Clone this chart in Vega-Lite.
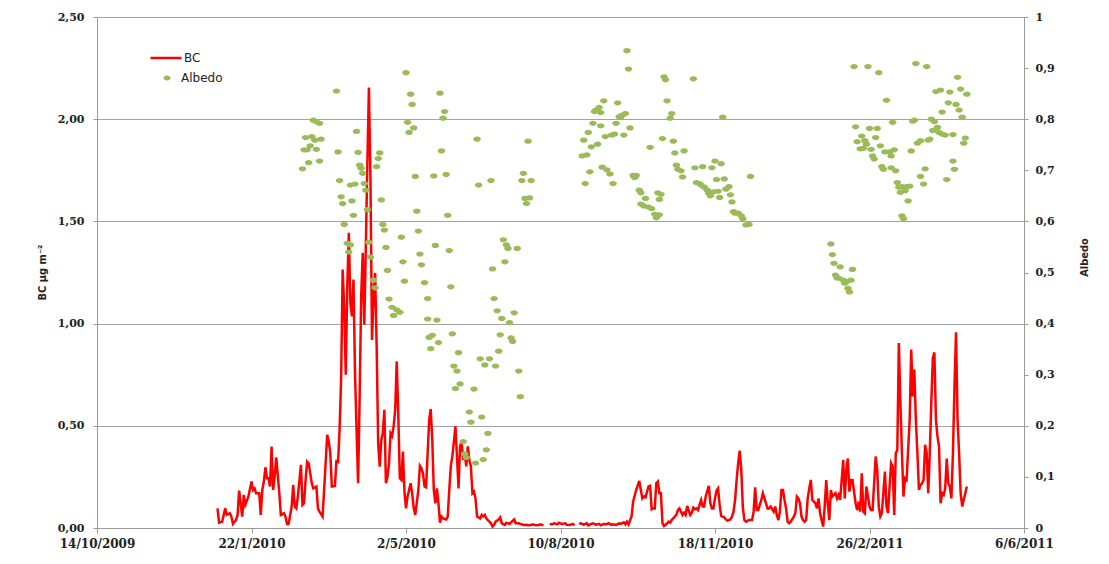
{
  "$schema": "https://vega.github.io/schema/vega-lite/v6.json",
  "width": 927,
  "height": 511,
  "autosize": {"type": "none"},
  "padding": {"left": 97, "top": 17, "right": 85, "bottom": 36},
  "background": "white",
  "config": {
    "view": {"stroke": null},
    "axis": {
      "labelFont": "DejaVu Serif",
      "labelFontWeight": "bold",
      "labelColor": "#222222",
      "domainColor": "#9a9a9a",
      "tickColor": "#9a9a9a",
      "titleFont": "DejaVu Sans Condensed, DejaVu Sans, sans-serif",
      "titleFontWeight": "bold",
      "titleFontSize": 11,
      "titleColor": "#222222"
    },
    "legend": {
      "labelFont": "DejaVu Sans",
      "labelFontSize": 12,
      "labelColor": "#222222",
      "padding": 0,
      "offset": 0
    }
  },
  "datasets": {
    "bc": [
      {"date": "2009/12/31", "BC": 0.096}, {"date": "2010/01/01", "BC": 0.026}, {"date": "2010/01/03", "BC": 0.031},
      {"date": "2010/01/05", "BC": 0.096}, {"date": "2010/01/06", "BC": 0.065}, {"date": "2010/01/08", "BC": 0.072},
      {"date": "2010/01/09", "BC": 0.056}, {"date": "2010/01/10", "BC": 0.020}, {"date": "2010/01/12", "BC": 0.039},
      {"date": "2010/01/13", "BC": 0.064}, {"date": "2010/01/14", "BC": 0.183}, {"date": "2010/01/16", "BC": 0.056},
      {"date": "2010/01/17", "BC": 0.162}, {"date": "2010/01/18", "BC": 0.113}, {"date": "2010/01/20", "BC": 0.154},
      {"date": "2010/01/22", "BC": 0.227}, {"date": "2010/01/23", "BC": 0.186}, {"date": "2010/01/24", "BC": 0.194},
      {"date": "2010/01/25", "BC": 0.170}, {"date": "2010/01/27", "BC": 0.170}, {"date": "2010/01/28", "BC": 0.064},
      {"date": "2010/01/29", "BC": 0.186}, {"date": "2010/01/30", "BC": 0.227}, {"date": "2010/01/31", "BC": 0.297},
      {"date": "2010/02/01", "BC": 0.243}, {"date": "2010/02/02", "BC": 0.243}, {"date": "2010/02/03", "BC": 0.203},
      {"date": "2010/02/04", "BC": 0.399}, {"date": "2010/02/05", "BC": 0.186}, {"date": "2010/02/06", "BC": 0.252},
      {"date": "2010/02/07", "BC": 0.345}, {"date": "2010/02/08", "BC": 0.260}, {"date": "2010/02/09", "BC": 0.170},
      {"date": "2010/02/10", "BC": 0.064}, {"date": "2010/02/12", "BC": 0.072}, {"date": "2010/02/13", "BC": 0.056},
      {"date": "2010/02/14", "BC": 0.020}, {"date": "2010/02/15", "BC": 0.020}, {"date": "2010/02/17", "BC": 0.105},
      {"date": "2010/02/18", "BC": 0.211}, {"date": "2010/02/19", "BC": 0.105}, {"date": "2010/02/20", "BC": 0.096},
      {"date": "2010/02/21", "BC": 0.154}, {"date": "2010/02/23", "BC": 0.309}, {"date": "2010/02/24", "BC": 0.113},
      {"date": "2010/02/25", "BC": 0.121}, {"date": "2010/02/26", "BC": 0.235}, {"date": "2010/02/27", "BC": 0.325},
      {"date": "2010/02/28", "BC": 0.317}, {"date": "2010/03/02", "BC": 0.219}, {"date": "2010/03/03", "BC": 0.194},
      {"date": "2010/03/05", "BC": 0.203}, {"date": "2010/03/06", "BC": 0.096}, {"date": "2010/03/07", "BC": 0.080},
      {"date": "2010/03/09", "BC": 0.056}, {"date": "2010/03/10", "BC": 0.186}, {"date": "2010/03/12", "BC": 0.456},
      {"date": "2010/03/13", "BC": 0.423}, {"date": "2010/03/14", "BC": 0.366}, {"date": "2010/03/15", "BC": 0.203},
      {"date": "2010/03/17", "BC": 0.206}, {"date": "2010/03/18", "BC": 0.333}, {"date": "2010/03/19", "BC": 0.317},
      {"date": "2010/03/20", "BC": 0.480}, {"date": "2010/03/21", "BC": 0.725}, {"date": "2010/03/22", "BC": 1.265},
      {"date": "2010/03/23", "BC": 1.085}, {"date": "2010/03/24", "BC": 0.750}, {"date": "2010/03/25", "BC": 1.183},
      {"date": "2010/03/26", "BC": 1.444}, {"date": "2010/03/27", "BC": 1.100}, {"date": "2010/03/28", "BC": 1.036},
      {"date": "2010/03/29", "BC": 1.216}, {"date": "2010/03/30", "BC": 0.758}, {"date": "2010/03/31", "BC": 0.480},
      {"date": "2010/04/01", "BC": 0.219}, {"date": "2010/04/02", "BC": 0.644}, {"date": "2010/04/03", "BC": 1.134},
      {"date": "2010/04/04", "BC": 1.346}, {"date": "2010/04/05", "BC": 0.995}, {"date": "2010/04/06", "BC": 1.379},
      {"date": "2010/04/07", "BC": 1.788}, {"date": "2010/04/08", "BC": 2.155}, {"date": "2010/04/09", "BC": 1.706},
      {"date": "2010/04/10", "BC": 0.920}, {"date": "2010/04/11", "BC": 1.134}, {"date": "2010/04/12", "BC": 1.248},
      {"date": "2010/04/13", "BC": 0.889}, {"date": "2010/04/14", "BC": 0.415}, {"date": "2010/04/15", "BC": 0.300},
      {"date": "2010/04/16", "BC": 0.431}, {"date": "2010/04/17", "BC": 0.464}, {"date": "2010/04/18", "BC": 0.578},
      {"date": "2010/04/19", "BC": 0.219}, {"date": "2010/04/20", "BC": 0.250}, {"date": "2010/04/21", "BC": 0.317},
      {"date": "2010/04/22", "BC": 0.464}, {"date": "2010/04/23", "BC": 0.450}, {"date": "2010/04/24", "BC": 0.497},
      {"date": "2010/04/25", "BC": 0.578}, {"date": "2010/04/26", "BC": 0.815}, {"date": "2010/04/27", "BC": 0.560},
      {"date": "2010/04/28", "BC": 0.243}, {"date": "2010/04/29", "BC": 0.235}, {"date": "2010/04/30", "BC": 0.374},
      {"date": "2010/05/01", "BC": 0.178}, {"date": "2010/05/02", "BC": 0.096}, {"date": "2010/05/03", "BC": 0.154},
      {"date": "2010/05/05", "BC": 0.219}, {"date": "2010/05/06", "BC": 0.170}, {"date": "2010/05/07", "BC": 0.096},
      {"date": "2010/05/08", "BC": 0.064}, {"date": "2010/05/10", "BC": 0.186}, {"date": "2010/05/11", "BC": 0.304},
      {"date": "2010/05/12", "BC": 0.292}, {"date": "2010/05/13", "BC": 0.268}, {"date": "2010/05/14", "BC": 0.203},
      {"date": "2010/05/15", "BC": 0.199}, {"date": "2010/05/17", "BC": 0.529}, {"date": "2010/05/18", "BC": 0.582},
      {"date": "2010/05/19", "BC": 0.431}, {"date": "2010/05/20", "BC": 0.186}, {"date": "2010/05/21", "BC": 0.121},
      {"date": "2010/05/22", "BC": 0.194}, {"date": "2010/05/23", "BC": 0.121}, {"date": "2010/05/24", "BC": 0.026},
      {"date": "2010/05/25", "BC": 0.056}, {"date": "2010/05/26", "BC": 0.047}, {"date": "2010/05/28", "BC": 0.042},
      {"date": "2010/05/29", "BC": 0.056}, {"date": "2010/05/30", "BC": 0.186}, {"date": "2010/05/31", "BC": 0.304},
      {"date": "2010/06/01", "BC": 0.350}, {"date": "2010/06/02", "BC": 0.423}, {"date": "2010/06/03", "BC": 0.497},
      {"date": "2010/06/04", "BC": 0.350}, {"date": "2010/06/05", "BC": 0.194}, {"date": "2010/06/06", "BC": 0.399},
      {"date": "2010/06/07", "BC": 0.423}, {"date": "2010/06/08", "BC": 0.333}, {"date": "2010/06/09", "BC": 0.366},
      {"date": "2010/06/10", "BC": 0.301}, {"date": "2010/06/11", "BC": 0.399}, {"date": "2010/06/12", "BC": 0.333},
      {"date": "2010/06/13", "BC": 0.301}, {"date": "2010/06/14", "BC": 0.170}, {"date": "2010/06/15", "BC": 0.178},
      {"date": "2010/06/16", "BC": 0.145}, {"date": "2010/06/17", "BC": 0.056}, {"date": "2010/06/19", "BC": 0.047},
      {"date": "2010/06/20", "BC": 0.064}, {"date": "2010/06/21", "BC": 0.056}, {"date": "2010/06/22", "BC": 0.064},
      {"date": "2010/06/23", "BC": 0.047}, {"date": "2010/06/24", "BC": 0.039}, {"date": "2010/06/25", "BC": 0.031},
      {"date": "2010/06/26", "BC": 0.023}, {"date": "2010/06/27", "BC": 0.007}, {"date": "2010/06/28", "BC": 0.015},
      {"date": "2010/06/29", "BC": 0.031}, {"date": "2010/07/01", "BC": 0.042}, {"date": "2010/07/02", "BC": 0.052},
      {"date": "2010/07/03", "BC": 0.023}, {"date": "2010/07/05", "BC": 0.015}, {"date": "2010/07/06", "BC": 0.026},
      {"date": "2010/07/08", "BC": 0.020}, {"date": "2010/07/09", "BC": 0.028}, {"date": "2010/07/11", "BC": 0.042},
      {"date": "2010/07/12", "BC": 0.023}, {"date": "2010/07/14", "BC": 0.023}, {"date": "2010/07/15", "BC": 0.020},
      {"date": "2010/07/17", "BC": 0.015}, {"date": "2010/07/19", "BC": 0.016}, {"date": "2010/07/20", "BC": 0.013},
      {"date": "2010/07/22", "BC": 0.015}, {"date": "2010/07/23", "BC": 0.018}, {"date": "2010/07/25", "BC": 0.013},
      {"date": "2010/07/27", "BC": 0.015}, {"date": "2010/07/28", "BC": 0.018}, {"date": "2010/07/30", "BC": 0.013},
      {"date": "2010/07/31", "BC": null}, {"date": "2010/08/01", "BC": null},
      {"date": "2010/08/03", "BC": 0.018}, {"date": "2010/08/05", "BC": 0.020}, {"date": "2010/08/06", "BC": 0.023},
      {"date": "2010/08/08", "BC": 0.018}, {"date": "2010/08/09", "BC": 0.026}, {"date": "2010/08/11", "BC": 0.020},
      {"date": "2010/08/13", "BC": 0.023}, {"date": "2010/08/14", "BC": 0.016}, {"date": "2010/08/16", "BC": 0.015},
      {"date": "2010/08/18", "BC": 0.020}, {"date": "2010/08/19", "BC": 0.013}, {"date": "2010/08/20", "BC": null},
      {"date": "2010/08/22", "BC": 0.020}, {"date": "2010/08/23", "BC": 0.023}, {"date": "2010/08/25", "BC": 0.016},
      {"date": "2010/08/27", "BC": 0.023}, {"date": "2010/08/28", "BC": 0.013}, {"date": "2010/08/30", "BC": 0.020},
      {"date": "2010/08/31", "BC": 0.023}, {"date": "2010/09/02", "BC": 0.016}, {"date": "2010/09/04", "BC": 0.020},
      {"date": "2010/09/05", "BC": 0.013}, {"date": "2010/09/07", "BC": 0.020}, {"date": "2010/09/09", "BC": 0.018},
      {"date": "2010/09/10", "BC": 0.023}, {"date": "2010/09/12", "BC": 0.015}, {"date": "2010/09/13", "BC": 0.018},
      {"date": "2010/09/15", "BC": 0.015}, {"date": "2010/09/17", "BC": 0.023}, {"date": "2010/09/18", "BC": 0.020},
      {"date": "2010/09/20", "BC": 0.028}, {"date": "2010/09/21", "BC": 0.018}, {"date": "2010/09/22", "BC": 0.031},
      {"date": "2010/09/23", "BC": 0.018}, {"date": "2010/09/25", "BC": 0.056}, {"date": "2010/09/26", "BC": 0.129},
      {"date": "2010/09/28", "BC": 0.186}, {"date": "2010/09/30", "BC": 0.230}, {"date": "2010/10/01", "BC": 0.186},
      {"date": "2010/10/02", "BC": 0.145}, {"date": "2010/10/03", "BC": 0.154}, {"date": "2010/10/04", "BC": 0.150},
      {"date": "2010/10/06", "BC": 0.203}, {"date": "2010/10/07", "BC": 0.206}, {"date": "2010/10/08", "BC": 0.092},
      {"date": "2010/10/09", "BC": 0.096}, {"date": "2010/10/10", "BC": 0.096}, {"date": "2010/10/11", "BC": 0.219},
      {"date": "2010/10/12", "BC": 0.227}, {"date": "2010/10/13", "BC": 0.170}, {"date": "2010/10/14", "BC": 0.170},
      {"date": "2010/10/15", "BC": 0.023}, {"date": "2010/10/16", "BC": 0.010}, {"date": "2010/10/17", "BC": 0.015},
      {"date": "2010/10/18", "BC": 0.023}, {"date": "2010/10/19", "BC": 0.031}, {"date": "2010/10/20", "BC": 0.026},
      {"date": "2010/10/21", "BC": 0.039}, {"date": "2010/10/23", "BC": 0.056}, {"date": "2010/10/24", "BC": 0.064},
      {"date": "2010/10/25", "BC": 0.088}, {"date": "2010/10/26", "BC": 0.096}, {"date": "2010/10/27", "BC": 0.080},
      {"date": "2010/10/28", "BC": 0.064}, {"date": "2010/10/29", "BC": 0.075}, {"date": "2010/10/30", "BC": 0.064},
      {"date": "2010/10/31", "BC": 0.108}, {"date": "2010/11/02", "BC": 0.064}, {"date": "2010/11/03", "BC": 0.075},
      {"date": "2010/11/04", "BC": 0.100}, {"date": "2010/11/05", "BC": 0.092}, {"date": "2010/11/06", "BC": 0.096},
      {"date": "2010/11/07", "BC": 0.088}, {"date": "2010/11/08", "BC": 0.113}, {"date": "2010/11/09", "BC": 0.137},
      {"date": "2010/11/10", "BC": 0.105}, {"date": "2010/11/11", "BC": 0.105}, {"date": "2010/11/12", "BC": 0.154},
      {"date": "2010/11/14", "BC": 0.206}, {"date": "2010/11/15", "BC": 0.121}, {"date": "2010/11/16", "BC": 0.096},
      {"date": "2010/11/17", "BC": 0.096}, {"date": "2010/11/18", "BC": 0.145}, {"date": "2010/11/19", "BC": 0.183},
      {"date": "2010/11/20", "BC": 0.194}, {"date": "2010/11/21", "BC": 0.113}, {"date": "2010/11/22", "BC": 0.059},
      {"date": "2010/11/24", "BC": 0.052}, {"date": "2010/11/25", "BC": 0.042}, {"date": "2010/11/26", "BC": 0.036},
      {"date": "2010/11/28", "BC": 0.042}, {"date": "2010/11/29", "BC": 0.056}, {"date": "2010/11/30", "BC": 0.080},
      {"date": "2010/12/01", "BC": 0.137}, {"date": "2010/12/02", "BC": 0.235}, {"date": "2010/12/03", "BC": 0.317},
      {"date": "2010/12/04", "BC": 0.379}, {"date": "2010/12/05", "BC": 0.284}, {"date": "2010/12/06", "BC": 0.105},
      {"date": "2010/12/07", "BC": 0.039}, {"date": "2010/12/08", "BC": 0.031}, {"date": "2010/12/10", "BC": 0.039},
      {"date": "2010/12/12", "BC": 0.039}, {"date": "2010/12/13", "BC": 0.080}, {"date": "2010/12/14", "BC": 0.199},
      {"date": "2010/12/15", "BC": 0.088}, {"date": "2010/12/16", "BC": 0.088}, {"date": "2010/12/17", "BC": 0.113},
      {"date": "2010/12/18", "BC": 0.137}, {"date": "2010/12/19", "BC": 0.170}, {"date": "2010/12/20", "BC": 0.145},
      {"date": "2010/12/21", "BC": 0.121}, {"date": "2010/12/22", "BC": 0.096}, {"date": "2010/12/23", "BC": 0.096},
      {"date": "2010/12/24", "BC": 0.105}, {"date": "2010/12/26", "BC": 0.080}, {"date": "2010/12/27", "BC": 0.105},
      {"date": "2010/12/28", "BC": 0.064}, {"date": "2010/12/29", "BC": 0.039}, {"date": "2010/12/30", "BC": 0.080},
      {"date": "2010/12/31", "BC": 0.186}, {"date": "2011/01/01", "BC": 0.186}, {"date": "2011/01/02", "BC": 0.137},
      {"date": "2011/01/03", "BC": 0.096}, {"date": "2011/01/04", "BC": 0.031}, {"date": "2011/01/05", "BC": 0.023},
      {"date": "2011/01/06", "BC": 0.031}, {"date": "2011/01/08", "BC": 0.056}, {"date": "2011/01/09", "BC": 0.072},
      {"date": "2011/01/10", "BC": 0.154}, {"date": "2011/01/11", "BC": 0.145}, {"date": "2011/01/12", "BC": 0.121},
      {"date": "2011/01/13", "BC": 0.056}, {"date": "2011/01/14", "BC": 0.039}, {"date": "2011/01/15", "BC": 0.031},
      {"date": "2011/01/16", "BC": 0.039}, {"date": "2011/01/17", "BC": 0.145}, {"date": "2011/01/18", "BC": 0.194},
      {"date": "2011/01/19", "BC": 0.235}, {"date": "2011/01/20", "BC": 0.137}, {"date": "2011/01/22", "BC": 0.121},
      {"date": "2011/01/23", "BC": 0.096}, {"date": "2011/01/24", "BC": 0.145}, {"date": "2011/01/25", "BC": 0.072},
      {"date": "2011/01/26", "BC": 0.039}, {"date": "2011/01/27", "BC": 0.007}, {"date": "2011/01/28", "BC": 0.105},
      {"date": "2011/01/29", "BC": 0.235}, {"date": "2011/01/30", "BC": 0.121}, {"date": "2011/01/31", "BC": 0.039},
      {"date": "2011/02/01", "BC": 0.186}, {"date": "2011/02/02", "BC": 0.154}, {"date": "2011/02/04", "BC": 0.170},
      {"date": "2011/02/05", "BC": 0.145}, {"date": "2011/02/06", "BC": 0.162}, {"date": "2011/02/07", "BC": 0.137},
      {"date": "2011/02/09", "BC": 0.333}, {"date": "2011/02/10", "BC": 0.145}, {"date": "2011/02/11", "BC": 0.284},
      {"date": "2011/02/12", "BC": 0.340}, {"date": "2011/02/13", "BC": 0.178}, {"date": "2011/02/14", "BC": 0.235},
      {"date": "2011/02/15", "BC": 0.235}, {"date": "2011/02/17", "BC": 0.121}, {"date": "2011/02/18", "BC": 0.088},
      {"date": "2011/02/19", "BC": 0.129}, {"date": "2011/02/20", "BC": 0.080}, {"date": "2011/02/21", "BC": 0.268},
      {"date": "2011/02/22", "BC": 0.080}, {"date": "2011/02/23", "BC": 0.072}, {"date": "2011/02/24", "BC": 0.203},
      {"date": "2011/02/25", "BC": 0.154}, {"date": "2011/02/26", "BC": 0.105}, {"date": "2011/02/27", "BC": 0.088},
      {"date": "2011/02/28", "BC": 0.088}, {"date": "2011/03/02", "BC": 0.350}, {"date": "2011/03/03", "BC": 0.284},
      {"date": "2011/03/04", "BC": 0.105}, {"date": "2011/03/05", "BC": 0.056}, {"date": "2011/03/06", "BC": 0.072},
      {"date": "2011/03/08", "BC": 0.276}, {"date": "2011/03/09", "BC": 0.105}, {"date": "2011/03/10", "BC": 0.072},
      {"date": "2011/03/11", "BC": 0.203}, {"date": "2011/03/12", "BC": 0.317}, {"date": "2011/03/13", "BC": 0.301},
      {"date": "2011/03/14", "BC": 0.064}, {"date": "2011/03/15", "BC": 0.366}, {"date": "2011/03/16", "BC": 0.382},
      {"date": "2011/03/17", "BC": 0.905}, {"date": "2011/03/18", "BC": 0.611}, {"date": "2011/03/19", "BC": 0.366},
      {"date": "2011/03/20", "BC": 0.154}, {"date": "2011/03/21", "BC": 0.243}, {"date": "2011/03/22", "BC": 0.235},
      {"date": "2011/03/24", "BC": 0.529}, {"date": "2011/03/25", "BC": 0.873}, {"date": "2011/03/26", "BC": 0.644},
      {"date": "2011/03/27", "BC": 0.775}, {"date": "2011/03/28", "BC": 0.529}, {"date": "2011/03/29", "BC": 0.366},
      {"date": "2011/03/30", "BC": 0.186}, {"date": "2011/03/31", "BC": 0.210}, {"date": "2011/04/01", "BC": 0.219},
      {"date": "2011/04/02", "BC": 0.235}, {"date": "2011/04/03", "BC": 0.407}, {"date": "2011/04/04", "BC": 0.366},
      {"date": "2011/04/05", "BC": 0.170}, {"date": "2011/04/06", "BC": 0.366}, {"date": "2011/04/07", "BC": 0.611},
      {"date": "2011/04/08", "BC": 0.832}, {"date": "2011/04/09", "BC": 0.859}, {"date": "2011/04/10", "BC": 0.529},
      {"date": "2011/04/11", "BC": 0.448}, {"date": "2011/04/12", "BC": 0.399}, {"date": "2011/04/13", "BC": 0.121},
      {"date": "2011/04/14", "BC": 0.170}, {"date": "2011/04/15", "BC": 0.162}, {"date": "2011/04/16", "BC": 0.194},
      {"date": "2011/04/17", "BC": 0.340}, {"date": "2011/04/18", "BC": 0.219}, {"date": "2011/04/19", "BC": 0.203},
      {"date": "2011/04/20", "BC": 0.145}, {"date": "2011/04/21", "BC": 0.366}, {"date": "2011/04/22", "BC": 0.693},
      {"date": "2011/04/23", "BC": 0.958}, {"date": "2011/04/24", "BC": 0.529}, {"date": "2011/04/25", "BC": 0.366},
      {"date": "2011/04/26", "BC": 0.170}, {"date": "2011/04/27", "BC": 0.105}, {"date": "2011/04/28", "BC": 0.137},
      {"date": "2011/04/30", "BC": 0.203}
    ],
    "albedo": [
      {"date": "2010/03/18", "albedo": 0.855}, {"date": "2010/05/02", "albedo": 0.891}, {"date": "2010/05/05", "albedo": 0.849},
      {"date": "2010/05/06", "albedo": 0.829}, {"date": "2010/05/24", "albedo": 0.851}, {"date": "2010/05/27", "albedo": 0.815},
      {"date": "2010/05/26", "albedo": 0.802}, {"date": "2010/05/03", "albedo": 0.794}, {"date": "2010/05/07", "albedo": 0.783},
      {"date": "2010/05/04", "albedo": 0.774}, {"date": "2010/03/03", "albedo": 0.798}, {"date": "2010/03/05", "albedo": 0.795},
      {"date": "2010/03/07", "albedo": 0.792}, {"date": "2010/02/26", "albedo": 0.764}, {"date": "2010/03/02", "albedo": 0.766},
      {"date": "2010/03/04", "albedo": 0.759}, {"date": "2010/03/08", "albedo": 0.761}, {"date": "2010/02/25", "albedo": 0.740},
      {"date": "2010/02/27", "albedo": 0.740}, {"date": "2010/03/01", "albedo": 0.748}, {"date": "2010/03/05", "albedo": 0.741},
      {"date": "2010/02/24", "albedo": 0.703}, {"date": "2010/02/28", "albedo": 0.715}, {"date": "2010/03/07", "albedo": 0.718},
      {"date": "2010/03/31", "albedo": 0.776}, {"date": "2010/03/19", "albedo": 0.736}, {"date": "2010/04/01", "albedo": 0.735},
      {"date": "2010/04/15", "albedo": 0.734}, {"date": "2010/04/14", "albedo": 0.723}, {"date": "2010/04/13", "albedo": 0.707},
      {"date": "2010/04/02", "albedo": 0.710}, {"date": "2010/04/03", "albedo": 0.704}, {"date": "2010/04/04", "albedo": 0.694},
      {"date": "2010/03/20", "albedo": 0.680}, {"date": "2010/03/27", "albedo": 0.671}, {"date": "2010/03/30", "albedo": 0.673},
      {"date": "2010/04/05", "albedo": 0.674}, {"date": "2010/04/06", "albedo": 0.661}, {"date": "2010/05/08", "albedo": 0.688},
      {"date": "2010/05/20", "albedo": 0.689}, {"date": "2010/05/28", "albedo": 0.692}, {"date": "2010/05/25", "albedo": 0.738},
      {"date": "2010/06/17", "albedo": 0.761}, {"date": "2010/06/18", "albedo": 0.671}, {"date": "2010/06/26", "albedo": 0.680},
      {"date": "2010/07/20", "albedo": 0.757}, {"date": "2010/07/17", "albedo": 0.694}, {"date": "2010/07/16", "albedo": 0.680},
      {"date": "2010/07/22", "albedo": 0.680}, {"date": "2010/07/18", "albedo": 0.645}, {"date": "2010/07/21", "albedo": 0.646},
      {"date": "2010/07/19", "albedo": 0.635}, {"date": "2010/03/21", "albedo": 0.648}, {"date": "2010/03/22", "albedo": 0.635},
      {"date": "2010/03/28", "albedo": 0.640}, {"date": "2010/03/29", "albedo": 0.612}, {"date": "2010/04/16", "albedo": 0.642},
      {"date": "2010/05/09", "albedo": 0.620}, {"date": "2010/05/29", "albedo": 0.612}, {"date": "2010/03/23", "albedo": 0.594},
      {"date": "2010/04/17", "albedo": 0.594}, {"date": "2010/04/18", "albedo": 0.583}, {"date": "2010/04/07", "albedo": 0.623},
      {"date": "2010/04/08", "albedo": 0.559}, {"date": "2010/04/09", "albedo": 0.530}, {"date": "2010/03/25", "albedo": 0.557},
      {"date": "2010/03/27", "albedo": 0.554}, {"date": "2010/03/26", "albedo": 0.540}, {"date": "2010/04/29", "albedo": 0.569},
      {"date": "2010/05/10", "albedo": 0.581}, {"date": "2010/04/19", "albedo": 0.549}, {"date": "2010/05/11", "albedo": 0.536},
      {"date": "2010/05/21", "albedo": 0.553}, {"date": "2010/05/30", "albedo": 0.543}, {"date": "2010/07/04", "albedo": 0.564},
      {"date": "2010/07/06", "albedo": 0.554}, {"date": "2010/07/07", "albedo": 0.547}, {"date": "2010/07/13", "albedo": 0.547},
      {"date": "2010/04/20", "albedo": 0.504}, {"date": "2010/05/01", "albedo": 0.483}, {"date": "2010/05/14", "albedo": 0.480},
      {"date": "2010/05/16", "albedo": 0.449}, {"date": "2010/05/31", "albedo": 0.472}, {"date": "2010/04/21", "albedo": 0.448},
      {"date": "2010/04/23", "albedo": 0.432}, {"date": "2010/04/26", "albedo": 0.427}, {"date": "2010/04/28", "albedo": 0.422},
      {"date": "2010/04/24", "albedo": 0.416}, {"date": "2010/05/16", "albedo": 0.409}, {"date": "2010/05/22", "albedo": 0.407},
      {"date": "2010/05/17", "albedo": 0.373}, {"date": "2010/05/19", "albedo": 0.377}, {"date": "2010/05/23", "albedo": 0.363},
      {"date": "2010/05/18", "albedo": 0.351}, {"date": "2010/06/01", "albedo": 0.380}, {"date": "2010/06/05", "albedo": 0.343},
      {"date": "2010/06/02", "albedo": 0.317}, {"date": "2010/06/04", "albedo": 0.307}, {"date": "2010/06/06", "albedo": 0.282},
      {"date": "2010/06/03", "albedo": 0.273}, {"date": "2010/06/15", "albedo": 0.272}, {"date": "2010/06/12", "albedo": 0.227},
      {"date": "2010/06/13", "albedo": 0.207}, {"date": "2010/06/20", "albedo": 0.217}, {"date": "2010/06/24", "albedo": 0.185},
      {"date": "2010/06/08", "albedo": 0.169}, {"date": "2010/06/09", "albedo": 0.145}, {"date": "2010/06/10", "albedo": 0.138},
      {"date": "2010/06/16", "albedo": 0.127}, {"date": "2010/06/21", "albedo": 0.134}, {"date": "2010/06/23", "albedo": 0.153},
      {"date": "2010/06/27", "albedo": 0.507}, {"date": "2010/07/05", "albedo": 0.521}, {"date": "2010/06/28", "albedo": 0.449},
      {"date": "2010/06/30", "albedo": 0.425}, {"date": "2010/07/03", "albedo": 0.410}, {"date": "2010/07/08", "albedo": 0.402},
      {"date": "2010/07/11", "albedo": 0.421}, {"date": "2010/07/02", "albedo": 0.378}, {"date": "2010/07/09", "albedo": 0.372},
      {"date": "2010/07/10", "albedo": 0.365}, {"date": "2010/07/01", "albedo": 0.346}, {"date": "2010/06/19", "albedo": 0.331},
      {"date": "2010/06/22", "albedo": 0.319}, {"date": "2010/06/25", "albedo": 0.331}, {"date": "2010/06/29", "albedo": 0.317},
      {"date": "2010/07/14", "albedo": 0.307}, {"date": "2010/07/15", "albedo": 0.257}, {"date": "2010/04/11", "albedo": 0.485},
      {"date": "2010/04/12", "albedo": 0.470}, {"date": "2010/05/12", "albedo": 0.515}, {"date": "2010/04/30", "albedo": 0.521},
      {"date": "2010/09/22", "albedo": 0.934}, {"date": "2010/09/23", "albedo": 0.898}, {"date": "2010/10/16", "albedo": 0.883},
      {"date": "2010/10/17", "albedo": 0.877}, {"date": "2010/11/04", "albedo": 0.879}, {"date": "2010/10/18", "albedo": 0.836},
      {"date": "2010/09/07", "albedo": 0.836}, {"date": "2010/09/16", "albedo": 0.832}, {"date": "2010/09/02", "albedo": 0.818},
      {"date": "2010/09/04", "albedo": 0.823}, {"date": "2010/09/01", "albedo": 0.815}, {"date": "2010/09/05", "albedo": 0.813},
      {"date": "2010/09/19", "albedo": 0.808}, {"date": "2010/09/21", "albedo": 0.811}, {"date": "2010/09/18", "albedo": 0.804},
      {"date": "2010/09/17", "albedo": 0.805}, {"date": "2010/10/20", "albedo": 0.802}, {"date": "2010/10/21", "albedo": 0.811},
      {"date": "2010/11/23", "albedo": 0.804}, {"date": "2010/08/31", "albedo": 0.792}, {"date": "2010/09/05", "albedo": 0.787},
      {"date": "2010/09/15", "albedo": 0.792}, {"date": "2010/09/24", "albedo": 0.783}, {"date": "2010/08/28", "albedo": 0.774},
      {"date": "2010/08/25", "albedo": 0.759}, {"date": "2010/09/08", "albedo": 0.766}, {"date": "2010/09/12", "albedo": 0.769},
      {"date": "2010/09/14", "albedo": 0.771}, {"date": "2010/09/20", "albedo": 0.769}, {"date": "2010/10/15", "albedo": 0.762},
      {"date": "2010/10/22", "albedo": 0.757}, {"date": "2010/08/30", "albedo": 0.746}, {"date": "2010/09/03", "albedo": 0.751},
      {"date": "2010/10/07", "albedo": 0.745}, {"date": "2010/10/23", "albedo": 0.734}, {"date": "2010/10/29", "albedo": 0.738},
      {"date": "2010/08/24", "albedo": 0.728}, {"date": "2010/08/27", "albedo": 0.730}, {"date": "2010/08/29", "albedo": 0.697},
      {"date": "2010/09/06", "albedo": 0.706}, {"date": "2010/09/09", "albedo": 0.701}, {"date": "2010/09/11", "albedo": 0.693},
      {"date": "2010/09/26", "albedo": 0.690}, {"date": "2010/09/28", "albedo": 0.690}, {"date": "2010/09/27", "albedo": 0.686},
      {"date": "2010/10/28", "albedo": 0.687}, {"date": "2010/10/24", "albedo": 0.710}, {"date": "2010/10/25", "albedo": 0.702},
      {"date": "2010/10/27", "albedo": 0.699}, {"date": "2010/11/05", "albedo": 0.705}, {"date": "2010/11/10", "albedo": 0.707},
      {"date": "2010/11/16", "albedo": 0.705}, {"date": "2010/11/18", "albedo": 0.718}, {"date": "2010/11/22", "albedo": 0.713},
      {"date": "2010/12/11", "albedo": 0.688}, {"date": "2010/08/26", "albedo": 0.674}, {"date": "2010/09/13", "albedo": 0.674},
      {"date": "2010/09/30", "albedo": 0.661}, {"date": "2010/10/01", "albedo": 0.656}, {"date": "2010/10/12", "albedo": 0.656},
      {"date": "2010/10/14", "albedo": 0.653}, {"date": "2010/10/04", "albedo": 0.645}, {"date": "2010/10/13", "albedo": 0.643},
      {"date": "2010/10/01", "albedo": 0.634}, {"date": "2010/10/03", "albedo": 0.630}, {"date": "2010/10/06", "albedo": 0.628},
      {"date": "2010/10/08", "albedo": 0.625}, {"date": "2010/10/10", "albedo": 0.614}, {"date": "2010/10/13", "albedo": 0.613},
      {"date": "2010/10/11", "albedo": 0.607}, {"date": "2010/11/06", "albedo": 0.676}, {"date": "2010/11/08", "albedo": 0.674},
      {"date": "2010/11/09", "albedo": 0.671}, {"date": "2010/11/11", "albedo": 0.667}, {"date": "2010/11/13", "albedo": 0.661},
      {"date": "2010/11/14", "albedo": 0.655}, {"date": "2010/11/15", "albedo": 0.650}, {"date": "2010/11/17", "albedo": 0.658},
      {"date": "2010/11/19", "albedo": 0.682}, {"date": "2010/11/20", "albedo": 0.659}, {"date": "2010/11/24", "albedo": 0.683},
      {"date": "2010/11/25", "albedo": 0.663}, {"date": "2010/11/27", "albedo": 0.668}, {"date": "2010/11/28", "albedo": 0.652},
      {"date": "2010/11/21", "albedo": 0.647}, {"date": "2010/11/29", "albedo": 0.638}, {"date": "2010/11/30", "albedo": 0.619},
      {"date": "2010/12/01", "albedo": 0.616}, {"date": "2010/12/03", "albedo": 0.616}, {"date": "2010/12/05", "albedo": 0.611},
      {"date": "2010/12/06", "albedo": 0.605}, {"date": "2010/12/08", "albedo": 0.593}, {"date": "2010/12/10", "albedo": 0.594},
      {"date": "2011/02/16", "albedo": 0.903}, {"date": "2011/02/25", "albedo": 0.903}, {"date": "2011/03/04", "albedo": 0.891},
      {"date": "2011/03/28", "albedo": 0.909}, {"date": "2011/04/04", "albedo": 0.903}, {"date": "2011/04/24", "albedo": 0.882},
      {"date": "2011/04/10", "albedo": 0.854}, {"date": "2011/04/13", "albedo": 0.857}, {"date": "2011/04/19", "albedo": 0.853},
      {"date": "2011/04/26", "albedo": 0.859}, {"date": "2011/04/30", "albedo": 0.849}, {"date": "2011/03/09", "albedo": 0.837},
      {"date": "2011/04/18", "albedo": 0.832}, {"date": "2011/04/23", "albedo": 0.829}, {"date": "2011/04/25", "albedo": 0.818},
      {"date": "2011/04/14", "albedo": 0.814}, {"date": "2011/04/27", "albedo": 0.804}, {"date": "2011/03/13", "albedo": 0.794},
      {"date": "2011/03/26", "albedo": 0.796}, {"date": "2011/03/27", "albedo": 0.798}, {"date": "2011/04/07", "albedo": 0.800},
      {"date": "2011/04/09", "albedo": 0.795}, {"date": "2011/02/17", "albedo": 0.785}, {"date": "2011/02/26", "albedo": 0.782},
      {"date": "2011/03/03", "albedo": 0.782}, {"date": "2011/02/21", "albedo": 0.767}, {"date": "2011/03/02", "albedo": 0.764},
      {"date": "2011/02/18", "albedo": 0.756}, {"date": "2011/02/23", "albedo": 0.758}, {"date": "2011/02/24", "albedo": 0.751},
      {"date": "2011/02/20", "albedo": 0.742}, {"date": "2011/02/22", "albedo": 0.743}, {"date": "2011/02/27", "albedo": 0.741},
      {"date": "2011/03/05", "albedo": 0.748}, {"date": "2011/03/08", "albedo": 0.736}, {"date": "2011/03/11", "albedo": 0.736},
      {"date": "2011/03/14", "albedo": 0.740}, {"date": "2011/03/12", "albedo": 0.728}, {"date": "2011/02/28", "albedo": 0.728},
      {"date": "2011/03/01", "albedo": 0.722}, {"date": "2011/03/25", "albedo": 0.738}, {"date": "2011/03/29", "albedo": 0.753},
      {"date": "2011/03/31", "albedo": 0.758}, {"date": "2011/04/05", "albedo": 0.759}, {"date": "2011/04/06", "albedo": 0.761},
      {"date": "2011/04/11", "albedo": 0.784}, {"date": "2011/04/08", "albedo": 0.778}, {"date": "2011/04/12", "albedo": 0.774},
      {"date": "2011/04/14", "albedo": 0.771}, {"date": "2011/04/16", "albedo": 0.769}, {"date": "2011/04/21", "albedo": 0.770},
      {"date": "2011/04/29", "albedo": 0.763}, {"date": "2011/04/28", "albedo": 0.753}, {"date": "2011/04/21", "albedo": 0.718},
      {"date": "2011/04/22", "albedo": 0.702}, {"date": "2011/03/06", "albedo": 0.707}, {"date": "2011/03/07", "albedo": 0.702},
      {"date": "2011/03/12", "albedo": 0.705}, {"date": "2011/03/15", "albedo": 0.699}, {"date": "2011/04/03", "albedo": 0.703},
      {"date": "2011/03/31", "albedo": 0.688}, {"date": "2011/04/02", "albedo": 0.673}, {"date": "2011/04/17", "albedo": 0.682},
      {"date": "2011/03/16", "albedo": 0.676}, {"date": "2011/03/17", "albedo": 0.667}, {"date": "2011/03/19", "albedo": 0.668},
      {"date": "2011/03/22", "albedo": 0.668}, {"date": "2011/03/24", "albedo": 0.669}, {"date": "2011/03/18", "albedo": 0.657},
      {"date": "2011/03/21", "albedo": 0.660}, {"date": "2011/03/23", "albedo": 0.640}, {"date": "2011/03/19", "albedo": 0.611},
      {"date": "2011/03/20", "albedo": 0.605}, {"date": "2011/02/01", "albedo": 0.556}, {"date": "2011/02/02", "albedo": 0.535},
      {"date": "2011/02/03", "albedo": 0.518}, {"date": "2011/02/07", "albedo": 0.511}, {"date": "2011/02/15", "albedo": 0.506},
      {"date": "2011/02/04", "albedo": 0.495}, {"date": "2011/02/05", "albedo": 0.489}, {"date": "2011/02/06", "albedo": 0.489},
      {"date": "2011/02/09", "albedo": 0.485}, {"date": "2011/02/11", "albedo": 0.482}, {"date": "2011/02/14", "albedo": 0.485},
      {"date": "2011/02/10", "albedo": 0.479}, {"date": "2011/02/12", "albedo": 0.469}, {"date": "2011/02/13", "albedo": 0.462}
    ]
  },
  "layer": [
    {
      "data": {"name": "bc"},
      "mark": {"type": "line", "strokeWidth": 2.5, "invalid": "break-paths-filter-domains"},
      "encoding": {
        "x": {
          "field": "date",
          "type": "temporal",
          "scale": {"domain": [{"year": 2009, "month": 10, "date": 14}, {"year": 2011, "month": 6, "date": 6}]},
          "axis": {
            "title": null,
            "grid": false,
            "values": [
              {"year": 2009, "month": 10, "date": 14},
              {"year": 2010, "month": 1, "date": 22},
              {"year": 2010, "month": 5, "date": 2},
              {"year": 2010, "month": 8, "date": 10},
              {"year": 2010, "month": 11, "date": 18},
              {"year": 2011, "month": 2, "date": 26},
              {"year": 2011, "month": 6, "date": 6}
            ],
            "format": "%-d/%-m/%Y",
            "labelFontSize": 12,
            "tickSize": 5,
            "labelPadding": 5,
            "labelOverlap": false,
            "labelFlush": false
          }
        },
        "y": {
          "field": "BC",
          "type": "quantitative",
          "scale": {"domain": [0, 2.5]},
          "axis": {
            "title": "BC µg m⁻²",
            "values": [0, 0.5, 1, 1.5, 2, 2.5],
            "labelExpr": "replace(format(datum.value, '.2f'), '.', ',')",
            "grid": true,
            "gridColor": "#a3a3a3",
            "gridWidth": 1,
            "tickSize": 4,
            "labelPadding": 9,
            "labelFontSize": 11,
            "titleAngle": 270,
            "titleX": -52,
            "titleY": 255,
            "titleAlign": "center",
            "titleBaseline": "alphabetic"
          }
        },
        "stroke": {
          "datum": "BC",
          "type": "nominal",
          "scale": {"range": ["#ff0000"]},
          "legend": {
            "title": null,
            "orient": "none",
            "legendX": 52,
            "legendY": 24,
            "symbolType": "stroke",
            "symbolSize": 961,
            "symbolStrokeWidth": 2.5,
            "labelOffset": 1
          }
        }
      }
    },
    {
      "data": {"name": "albedo"},
      "mark": {
        "type": "point",
        "filled": true,
        "opacity": 1,
        "size": 56,
        "shape": "M -1 0 A 1 0.7 0 1 0 1 0 A 1 0.7 0 1 0 -1 0 Z"
      },
      "encoding": {
        "x": {"field": "date", "type": "temporal"},
        "y": {
          "field": "albedo",
          "type": "quantitative",
          "scale": {"domain": [0, 1]},
          "axis": {
            "orient": "right",
            "title": "Albedo",
            "values": [0, 0.1, 0.2, 0.3, 0.4, 0.5, 0.6, 0.7, 0.8, 0.9, 1],
            "labelExpr": "replace(format(datum.value, '~g'), '.', ',')",
            "grid": false,
            "tickSize": 4,
            "labelPadding": 7,
            "labelFontSize": 11,
            "titleAngle": 270,
            "titleX": 63,
            "titleY": 240,
            "titleAlign": "center",
            "titleBaseline": "alphabetic"
          }
        },
        "fill": {
          "datum": "Albedo",
          "type": "nominal",
          "scale": {"range": ["#9bbb59"]},
          "legend": {
            "title": null,
            "orient": "none",
            "legendX": 64,
            "legendY": 55,
            "symbolType": "M -1 0 A 1 0.7 0 1 0 1 0 A 1 0.7 0 1 0 -1 0 Z",
            "symbolSize": 49,
            "symbolStrokeWidth": 0,
            "labelOffset": 8
          }
        }
      }
    }
  ],
  "resolve": {"scale": {"y": "independent", "stroke": "independent", "fill": "independent"}}
}
